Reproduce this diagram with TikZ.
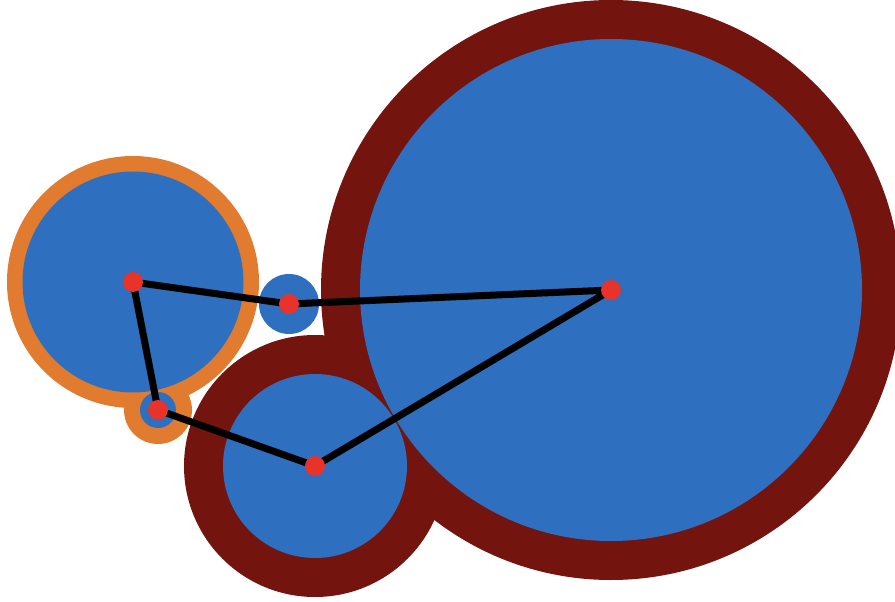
\documentclass[tikz,border=0pt]{standalone}
\usepackage{tikz}

\definecolor{discblue}{HTML}{2E6FBF}
\definecolor{rimred}{HTML}{73140F}
\definecolor{rimorange}{HTML}{E07B30}
\definecolor{hubred}{HTML}{E8332A}

\begin{document}
\begin{tikzpicture}[x=1pt, y=-1pt,
    rim/.style={circle, inner sep=0pt, outer sep=0pt},
    disc/.style={circle, fill=discblue, inner sep=0pt, outer sep=0pt},
    hub/.style={circle, fill=hubred, inner sep=0pt, minimum size=20pt}]
\useasboundingbox (0,0) rectangle (895,602);
\clip (0,0) rectangle (895,602);
% centres
\coordinate (left) at (133,282);
\coordinate (top) at (289,304);
\coordinate (small) at (158,410);
\coordinate (mid) at (315,466);
\coordinate (big) at (611,290);
% outer rims
\node[rim, fill=rimred, minimum size=580pt] (bigrim) at (big) {};
\node[rim, fill=rimred, minimum size=262pt] (midrim) at (mid) {};
\node[rim, fill=rimorange, minimum size=252pt] (leftrim) at (left) {};
\node[rim, fill=rimorange, minimum size=68pt] (smallrim) at (small) {};
% inner discs
\node[disc, minimum size=502pt] (bigdisc) at (big) {};
\node[disc, minimum size=184pt] (middisc) at (mid) {};
\node[disc, minimum size=221pt] (leftdisc) at (left) {};
\node[disc, minimum size=36pt] (smalldisc) at (small) {};
\node[disc, minimum size=60pt] (topdisc) at (top) {};
% path
\draw[line width=7pt, line join=round] (left) -- (top) -- (big) -- (mid) -- (small) -- cycle;
% hubs
\node[hub] (lefthub) at (left) {};
\node[hub] (tophub) at (top) {};
\node[hub] (smallhub) at (small) {};
\node[hub] (midhub) at (mid) {};
\node[hub] (bighub) at (big) {};
\end{tikzpicture}
\end{document}
